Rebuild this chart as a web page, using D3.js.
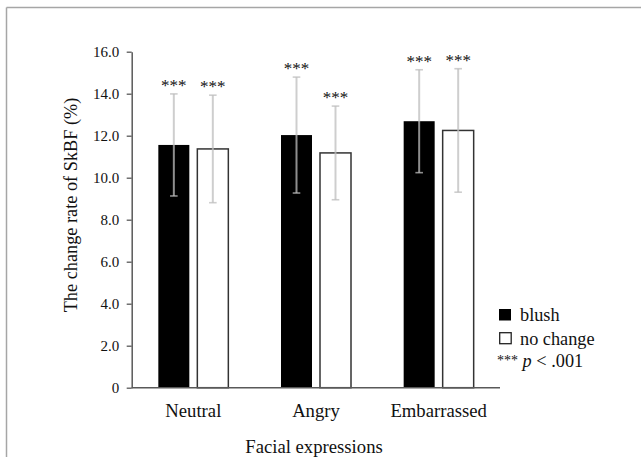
<!DOCTYPE html>
<html><head><meta charset="utf-8">
<script src="https://cdn.jsdelivr.net/npm/d3@7/dist/d3.min.js"></script>
<style>body{margin:0;background:#fff}svg{display:block}text{font-family:"Liberation Serif","Times New Roman",serif}</style>
</head><body><svg id="c" width="641" height="457"></svg>
<script>
const categories = ["Neutral", "Angry", "Embarrassed"];
const seriesNames = ["blush", "no change"];
const blushMeans = [11.56, 12.03, 12.69];
const blushSD = [2.43, 2.76, 2.45];
const noChangeMeans = [11.37, 11.18, 12.25];
const noChangeSD = [2.56, 2.23, 2.94];
const yTicks = [0, 2, 4, 6, 8, 10, 12, 14, 16];
const sigLabel = "***";

const svg = d3.select("#c");
// frame
svg.append("line").attr("x1",6.5).attr("x2",641).attr("y1",7.5).attr("y2",7.5).attr("stroke","#a6a6a6").attr("stroke-width",1.5);
svg.append("line").attr("x1",6.5).attr("x2",6.5).attr("y1",7.5).attr("y2",457).attr("stroke","#a6a6a6").attr("stroke-width",1.5);

const x0 = d3.scaleBand().domain(categories).range([132, 500]);
const y = d3.scaleLinear().domain([0, 16]).range([387.7, 51.7]);

const data = [];
categories.forEach((c, i) => {
  data.push({cat: c, s: "blush", m: blushMeans[i], sd: blushSD[i]});
  data.push({cat: c, s: "no change", m: noChangeMeans[i], sd: noChangeSD[i]});
});
const bw = 31;
const cx = d => x0(d.cat) + x0.bandwidth()/2 + (d.s === "blush" ? -1 : 1) * 19.5;

// y axis
const yAxis = d3.axisLeft(y).tickValues(yTicks).tickSize(5).tickSizeOuter(0)
  .tickFormat(d => d === 0 ? "0" : d3.format(".1f")(d));
const gy = svg.append("g").attr("transform","translate(131.7,0)").call(yAxis);
gy.attr("font-size", 15).attr("font-family","'Liberation Serif','Times New Roman',serif");
gy.select(".domain").attr("stroke","#595959").attr("stroke-width",1.5);
gy.selectAll(".tick line").attr("stroke","#595959").attr("stroke-width",1.3);
gy.selectAll(".tick text").attr("font-size",15).attr("fill","#111").attr("x",-12.5);

// bars
svg.selectAll("rect.bar").data(data).join("rect").attr("class","bar")
  .attr("x", d => cx(d) - bw/2).attr("width", bw)
  .attr("y", d => y(d.m)).attr("height", d => y(0) - y(d.m))
  .attr("fill", d => d.s === "blush" ? "#000" : "#fff")
  .attr("stroke", d => d.s === "blush" ? "none" : "#333")
  .attr("stroke-width", 1.5);

// x axis
svg.append("line").attr("x1",131.7).attr("x2",500).attr("y1",y(0)).attr("y2",y(0)).attr("stroke","#595959").attr("stroke-width",1.5);

// error bars
const ec = "#bebebe", eo = 0.75;
const eg = svg.selectAll("g.err").data(data).join("g").attr("class","err");
eg.append("line").attr("x1",cx).attr("x2",cx).attr("y1",d=>y(d.m+d.sd)).attr("y2",d=>y(d.m-d.sd))
  .attr("stroke",ec).attr("stroke-opacity",eo).attr("stroke-width",2);
eg.append("line").attr("x1",d=>cx(d)-3.8).attr("x2",d=>cx(d)+3.8).attr("y1",d=>y(d.m+d.sd)).attr("y2",d=>y(d.m+d.sd))
  .attr("stroke",ec).attr("stroke-opacity",eo).attr("stroke-width",1.6);
eg.append("line").attr("x1",d=>cx(d)-3.8).attr("x2",d=>cx(d)+3.8).attr("y1",d=>y(d.m-d.sd)).attr("y2",d=>y(d.m-d.sd))
  .attr("stroke",ec).attr("stroke-opacity",eo).attr("stroke-width",1.6);
eg.append("text").attr("x",cx).attr("y",d=>y(d.m+d.sd)-3).attr("text-anchor","middle")
  .attr("font-size",17).attr("fill","#111").attr("letter-spacing",0).text(sigLabel);

// category labels
svg.selectAll("text.cat").data(categories).join("text").attr("class","cat")
  .attr("x", d => x0(d) + x0.bandwidth()/2).attr("y", 416.7).attr("text-anchor","middle")
  .attr("font-size",18.7).attr("fill","#111").text(d => d);

// axis titles
svg.append("text").attr("x",314).attr("y",453).attr("text-anchor","middle").attr("font-size",18.7).attr("fill","#111").text("Facial expressions");
svg.append("text").attr("transform","translate(77,205) rotate(-90)").attr("text-anchor","middle").attr("font-size",18.3).attr("fill","#111").text("The change rate of SkBF (%)");

// legend
svg.append("rect").attr("x",499).attr("y",309).attr("width",12).attr("height",11.5).attr("fill","#000");
svg.append("text").attr("x",520).attr("y",320.5).attr("font-size",18.3).attr("fill","#111").text(seriesNames[0]);
svg.append("rect").attr("x",499.7).attr("y",332.7).attr("width",11.5).attr("height",11).attr("fill","#fff").attr("stroke","#222").attr("stroke-width",1.3);
svg.append("text").attr("x",520).attr("y",345).attr("font-size",18.3).attr("fill","#111").text(seriesNames[1]);
const lt = svg.append("text").attr("x",497).attr("y",367.3).attr("font-size",18.3).attr("fill","#111");
lt.append("tspan").attr("font-size",14).attr("dy",-2).text(sigLabel);
lt.append("tspan").attr("dy",2).attr("font-style","italic").text(" p");
lt.append("tspan").text(" < .001");
</script></body></html>
